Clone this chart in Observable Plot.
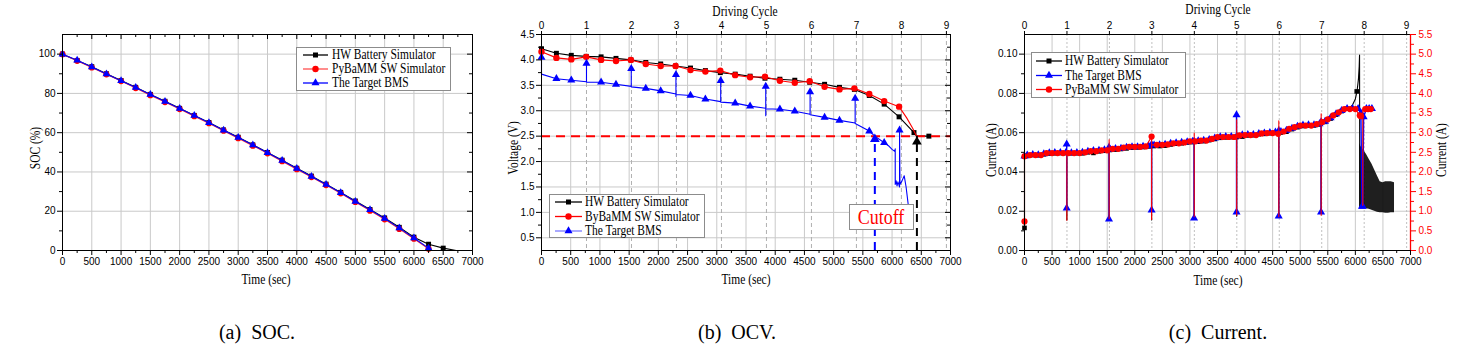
<!DOCTYPE html>
<html><head><meta charset="utf-8">
<script src="https://cdn.jsdelivr.net/npm/d3@7"></script>
<script src="https://cdn.jsdelivr.net/npm/@observablehq/plot@0.6"></script>
<style>
html,body{margin:0;padding:0;background:#fff;overflow:hidden;}
#wrap{position:relative;width:1464px;height:357px;}
#ov{position:absolute;left:0;top:0;}
</style></head><body><div id="wrap"></div>
<script>
// ---------------- shared ----------------
const timeTicks = [0,500,1000,1500,2000,2500,3000,3500,4000,4500,5000,5500,6000,6500,7000];
const timeMinor = [250,750,1250,1750,2250,2750,3250,3750,4250,4750,5250,5750,6250,6750];
const cycleTicks = [0,1,2,3,4,5,6,7,8,9];
const cycleSec = 770;

// ---------------- (a) SOC ----------------
const socTime = [0,250,500,750,1000,1250,1500,1750,2000,2250,2500,2750,3000,3250,3500,3750,4000,4250,4500,4750,5000,5250,5500,5750,6000,6250,6500];
const socHW   = [100,96.8,93.6,90.0,86.6,83.1,79.5,76.0,72.4,68.8,65.2,61.4,57.7,53.8,49.9,46.0,41.9,37.9,33.8,29.6,25.2,20.9,16.6,11.8,6.8,3.2,1.2];
const socHWTailTime = [6500,6720];
const socHWTail = [1.2,0];
const socPy   = [100,96.6,93.2,89.7,86.3,82.7,79.1,75.6,72.0,68.4,64.8,61.0,57.2,53.4,49.5,45.5,41.4,37.4,33.3,29.1,24.7,20.3,15.9,11.0,6.0,0.9];
const socBMS  = [100,96.9,93.5,89.9,86.5,83.0,79.4,75.9,72.3,68.7,65.1,61.2,57.5,53.7,49.8,45.8,41.8,37.7,33.6,29.4,25.0,20.7,16.3,11.4,6.4,1.2];
const socYTicks = [0,20,40,60,80,100];
const socYMinor = [10,30,50,70,90];

// ---------------- (b) OCV ----------------
const ocvTime = [0,255,510,765,1020,1275,1530,1785,2040,2295,2550,2805,3060,3315,3570,3825,4080,4335,4590,4845,5100,5355,5610,5865,6120,6375,6630];
const ocvHW   = [4.22,4.13,4.09,4.07,4.06,4.03,4.00,3.95,3.92,3.88,3.84,3.79,3.75,3.72,3.68,3.64,3.62,3.60,3.56,3.52,3.46,3.42,3.30,3.13,2.88,2.57,2.50];
const ocvHWKneeTime = [6420];
const ocvHWKnee = [2.50];
const ocvPy   = [4.16,4.04,4.01,4.06,4.00,3.98,4.00,3.92,3.88,3.88,3.80,3.77,3.79,3.70,3.66,3.67,3.59,3.55,3.58,3.47,3.42,3.44,3.33,3.19,3.08];
const ocvPyTailTime = [6250,6350,6420];
const ocvPyTail = [2.86,2.66,2.50];
const bmsPathTime = [0,0,255,510,770,770,770,1020,1275,1536,1536,1536,1785,2040,2301,2301,2301,2301,2550,2805,3067,3067,3067,3315,3570,3838,3838,3838,3838,4080,4335,4597,4597,4597,4845,5100,5368,5368,5368,5610,5705,5865,5950,6000,6045,6054,6054,6070,6085,6100,6115,6128,6128,6135,6170,6208,6240,6280];
const bmsPath     = [4.05,3.72,3.63,3.60,3.57,3.93,3.56,3.56,3.52,3.48,3.83,3.47,3.44,3.39,3.33,3.71,3.28,3.32,3.30,3.23,3.18,3.59,3.17,3.15,3.09,3.05,3.48,2.90,3.04,3.03,2.99,2.93,3.37,2.92,2.87,2.81,2.76,3.24,2.75,2.60,2.50,2.37,2.30,2.24,2.20,2.25,1.55,1.62,1.52,1.60,1.55,1.50,2.62,1.55,1.62,1.72,1.50,1.12];
const bmsMarkTime = [0,255,510,770,1020,1275,1536,1785,2040,2301,2550,2805,3067,3315,3570,3838,4080,4335,4597,4845,5100,5368,5610,5865,6128];
const bmsMark     = [4.05,3.63,3.60,3.93,3.56,3.52,3.83,3.44,3.39,3.71,3.30,3.23,3.59,3.15,3.09,3.48,3.03,2.99,3.37,2.87,2.81,3.24,2.60,2.37,2.62];
const cutoffVoltage = 2.5;
const cutoffBmsTime = 5705, cutoffHWTime = 6425;
const cutoffBmsMark = 2.44, cutoffHWMark = 2.39;
const ocvYTicks = [0.5,1.0,1.5,2.0,2.5,3.0,3.5,4.0,4.5];
const ocvYMinor = [0.75,1.25,1.75,2.25,2.75,3.25,3.75,4.25];

// ---------------- (c) Current ----------------
const ampRatio = 50; // right axis (A) / left axis (A)
const curHWTime = [0,0,50,150,250,350,450,550,650,750,850,950,1050,1150,1250,1350,1450,1550,1650,1750,1850,1950,2050,2150,2250,2350,2450,2550,2650,2750,2850,2950,3050,3150,3250,3350,3450,3550,3650,3750,3850,3950,4050,4150,4250,4350,4450,4550,4650,4750,4850,4950,5050,5150,5250,5350,5450,5550,5650,5750,5850];
const curHW = [0.0115,0.0480,0.0482,0.0486,0.0485,0.0490,0.0494,0.0495,0.0496,0.0496,0.0495,0.0495,0.0495,0.0500,0.0497,0.0505,0.0508,0.0512,0.0514,0.0517,0.0520,0.0524,0.0525,0.0527,0.0530,0.0532,0.0532,0.0534,0.0540,0.0544,0.0546,0.0550,0.0552,0.0554,0.0557,0.0562,0.0568,0.0574,0.0576,0.0577,0.0578,0.0580,0.0586,0.0587,0.0592,0.0594,0.0597,0.0599,0.0601,0.0605,0.0618,0.0628,0.0634,0.0637,0.0637,0.0642,0.0655,0.0672,0.0692,0.0710,0.0722];
const curHWTailTime = [5900,5950,6000,6030,6055,6070,6076,6080];
const curHWTail = [0.0728,0.0742,0.0772,0.0810,0.0870,0.0940,0.0995,0.0220];
const curHWExtraMarkTime = [6025];
const curHWExtraMark = [0.0810];
const hwSpikeTime = [768,1535,2305,3078,3848,4612,5380];
const hwSpikeTop  = [0.0496,0.0512,0.0530,0.0552,0.0600,0.0599,0.0642];
const hwSpikeLow  = [0.0155,0.0160,0.0155,0.0165,0.0175,0.0175,0.0190];
const hwNoiseTime = [6080,6100,6150,6200,6250,6300,6350,6400,6450,6500,6550,6600,6650,6710];
const hwNoiseHigh = [0.0545,0.0530,0.0510,0.0490,0.0465,0.0440,0.0410,0.0380,0.0350,0.0345,0.0350,0.0350,0.0350,0.0345];
const hwNoiseLow  = [0.0220,0.0220,0.0218,0.0212,0.0210,0.0205,0.0200,0.0195,0.0192,0.0192,0.0190,0.0190,0.0192,0.0192];

const curBmsTime = [0,50,150,250,350,450,550,650,750,850,950,1050,1150,1250,1350,1450,1550,1650,1750,1850,1950,2050,2150,2250,2350,2450,2550,2650,2750,2850,2950,3050,3150,3250,3350,3450,3550,3650,3750,3850,3950,4050,4150,4250,4350,4450,4550,4650,4750,4850,4950,5050,5150,5250,5350,5450,5550,5650,5750,5850,5950,6050,6100,6120,6135,6150,6200,6250,6300];
const curBms = [0.0480,0.0485,0.0488,0.0487,0.0492,0.0497,0.0498,0.0498,0.0498,0.0497,0.0498,0.0500,0.0505,0.0508,0.0510,0.0512,0.0515,0.0518,0.0520,0.0525,0.0528,0.0528,0.0530,0.0532,0.0536,0.0538,0.0540,0.0545,0.0548,0.0550,0.0553,0.0556,0.0558,0.0560,0.0565,0.0572,0.0578,0.0580,0.0580,0.0582,0.0588,0.0590,0.0590,0.0595,0.0598,0.0600,0.0602,0.0605,0.0612,0.0622,0.0632,0.0638,0.0640,0.0640,0.0645,0.0658,0.0675,0.0695,0.0712,0.0722,0.0722,0.0722,0.0700,0.0225,0.0225,0.0680,0.0722,0.0722,0.0722];
const bmsSpikeTime = [765,1532,2305,3075,3845,4610,5378];
const bmsSpikeTop  = [0.0541,0.0525,0.0540,0.0555,0.0690,0.0610,0.0655];
const bmsSpikeLow  = [0.0215,0.0160,0.0205,0.0165,0.0195,0.0175,0.0195];

const curPyTime = [0,0,100,200,300,400,500,600,700,800,900,1000,1100,1200,1300,1400,1500,1600,1700,1800,1900,2000,2100,2200,2305,2400,2500,2600,2700,2800,2900,3000,3100,3200,3300,3400,3500,3600,3700,3800,3900,4000,4100,4200,4300,4400,4500,4600,4700,4800,4900,5000,5100,5200,5300,5400,5500,5600,5700,5800,5900,6000,6080,6100,6180,6230,6280];
const curPy = [0.74,2.40,2.43,2.43,2.43,2.48,2.48,2.48,2.48,2.48,2.48,2.48,2.50,2.53,2.53,2.55,2.55,2.59,2.59,2.62,2.64,2.64,2.64,2.65,2.90,2.69,2.69,2.70,2.73,2.73,2.75,2.78,2.78,2.80,2.80,2.84,2.89,2.89,2.89,2.89,2.93,2.94,2.94,2.94,2.98,2.99,2.99,2.97,3.03,3.10,3.14,3.18,3.18,3.18,3.22,3.27,3.34,3.44,3.52,3.60,3.60,3.60,3.44,3.42,3.60,3.60,3.60];
const pySpikeTime = [768,1535,2305,3078,3848,4612,5380,6135];
const pySpikeTop  = [2.55,2.82,2.93,2.99,3.33,3.30,3.48,3.42];
const pySpikeLow  = [0.77,0.81,0.79,0.86,0.90,0.86,0.90,1.15];

const curYTicks = [0,0.02,0.04,0.06,0.08,0.10];
const curYMinor = [0.01,0.03,0.05,0.07,0.09];
const curRTicks = [0,0.5,1.0,1.5,2.0,2.5,3.0,3.5,4.0,4.5,5.0,5.5];
const curRMinor = [0.25,0.75,1.25,1.75,2.25,2.75,3.25,3.75,4.25,4.75,5.25];

// ---------------- helpers ----------------
const pts = (ts, vs) => ts.map((t, i) => ({t, v: vs[i]}));
// insert vertical spikes into a base series: prev level -> top -> low -> next level, all at the spike time
function withSpikes(base, st, top, low) {
  const b = base.slice().sort((a, c) => a.t - c.t);
  const ev = b.map(p => ({t: p.t, list: [p.v]}));
  st.forEach((t, i) => {
    let prev = b[0], next = b[b.length - 1];
    for (const p of b) { if (p.t <= t) prev = p; }
    for (let j = b.length - 1; j >= 0; j--) { if (b[j].t > t) next = b[j]; }
    ev.push({t, list: [prev.v, top[i], low[i], next.v]});
  });
  ev.sort((a, c) => a.t - c.t);
  const out = [];
  ev.forEach(e => e.list.forEach(v => out.push({t: e.t, v})));
  return out;
}
const STYLE = {fontFamily: '"Liberation Sans", Arial, sans-serif', fontSize: "10px", background: "transparent", color: "black", overflow: "visible"};
const G = {stroke: "#c9c9c9", strokeOpacity: 1};
const cycleTimes = cycleTicks.map(k => k * cycleSec);

function axes({xTicks, xMinor, yTicks, yMinor, yFmt, ph, pw, top = true, right = true}) {
  const m = [
    Plot.axisX(xTicks, {tickSize: 5, tickPadding: 2, tickFormat: d => String(d), label: null}),
    Plot.axisX(xMinor, {tickSize: 3, tickFormat: () => "", label: null}),
    Plot.axisY(yTicks, {tickSize: 5, tickPadding: 2, tickFormat: yFmt, label: null}),
    Plot.axisY(yMinor, {tickSize: 3, tickFormat: () => "", label: null})
  ];
  if (top) m.push(Plot.tickX(xTicks, {x: d => d, insetBottom: ph - 5, stroke: "black"}),
                  Plot.tickX(xMinor, {x: d => d, insetBottom: ph - 3, stroke: "black"}));
  if (right) m.push(Plot.tickY(yTicks, {y: d => d, insetLeft: pw - 5, stroke: "black"}),
                    Plot.tickY(yMinor, {y: d => d, insetLeft: pw - 3, stroke: "black"}));
  m.push(Plot.frame({stroke: "black"}));
  return m;
}
function place(svg, left) {
  svg.style.position = "absolute";
  svg.style.left = left + "px";
  svg.style.top = "0px";
  document.getElementById("wrap").appendChild(svg);
}

// ---------------- panel (a) ----------------
{
  const hw = pts(socTime, socHW);
  const hwLine = hw.concat(pts(socHWTailTime, socHWTail).slice(1));
  const py = pts(socTime.slice(0, socPy.length), socPy);
  const bm = pts(socTime.slice(0, socBMS.length), socBMS);
  const svg = Plot.plot({
    width: 490, height: 300, marginLeft: 62, marginRight: 18, marginTop: 34, marginBottom: 50,
    style: STYLE, x: {domain: [0, 7000]}, y: {domain: [0, 110]},
    marks: [
      Plot.gridX(timeTicks, G), Plot.gridY(socYTicks, G),
      Plot.line(hwLine, {x: "t", y: "v", stroke: "black", strokeWidth: 1.1}),
      Plot.dot(hw, {x: "t", y: "v", symbol: "square", fill: "black", r: 2.8}),
      Plot.line(py, {x: "t", y: "v", stroke: "#ff3030", strokeWidth: 1.1}),
      Plot.dot(py, {x: "t", y: "v", symbol: "circle", fill: "red", r: 3.1}),
      Plot.line(bm, {x: "t", y: "v", stroke: "blue", strokeWidth: 1.1}),
      Plot.dot(bm, {x: "t", y: "v", symbol: "triangle", fill: "blue", r: 2.9}),
      ...axes({xTicks: timeTicks, xMinor: timeMinor, yTicks: socYTicks, yMinor: socYMinor, yFmt: d => String(d), ph: 216, pw: 410})
    ]
  });
  place(svg, 0);
}

// ---------------- panel (b) ----------------
{
  const yDom = [0.25, 4.5];
  const hw = pts(ocvTime, ocvHW);
  const hwLine = hw.concat(pts(ocvHWKneeTime, ocvHWKnee)).sort((a, b) => a.t - b.t);
  const py = pts(ocvTime.slice(0, ocvPy.length), ocvPy);
  const pyLine = py.concat(pts(ocvPyTailTime, ocvPyTail));
  const bmLine = pts(bmsPathTime, bmsPath);
  const bmMark = pts(bmsMarkTime, bmsMark);
  const svg = Plot.plot({
    width: 490, height: 300, marginLeft: 51, marginRight: 30, marginTop: 34, marginBottom: 50,
    style: STYLE, x: {domain: [0, 7000]}, y: {domain: yDom},
    marks: [
      Plot.gridX(timeTicks, G), Plot.gridY(ocvYTicks, G),
      Plot.ruleX(cycleTimes.slice(1), {x: d => d, stroke: "#b0b0b0", strokeDasharray: "4,3"}),
      Plot.line(hwLine, {x: "t", y: "v", stroke: "black", strokeWidth: 1.1}),
      Plot.dot(hw, {x: "t", y: "v", symbol: "square", fill: "black", r: 2.8}),
      Plot.line(pyLine, {x: "t", y: "v", stroke: "red", strokeWidth: 1.1}),
      Plot.dot(py, {x: "t", y: "v", symbol: "circle", fill: "red", r: 3.2}),
      Plot.line(bmLine, {x: "t", y: "v", stroke: "blue", strokeWidth: 1.1}),
      Plot.dot(bmMark, {x: "t", y: "v", symbol: "triangle", fill: "blue", r: 3}),
      Plot.ruleY([cutoffVoltage], {y: d => d, stroke: "red", strokeWidth: 2, strokeDasharray: "9,6"}),
      Plot.ruleX([cutoffBmsTime], {x: d => d, y1: yDom[0], y2: cutoffVoltage, stroke: "blue", strokeWidth: 2, strokeDasharray: "8,6"}),
      Plot.ruleX([cutoffHWTime], {x: d => d, y1: yDom[0], y2: cutoffVoltage, stroke: "black", strokeWidth: 2, strokeDasharray: "8,6"}),
      Plot.dot([{t: cutoffBmsTime, v: cutoffBmsMark}], {x: "t", y: "v", symbol: "triangle", fill: "blue", r: 3.6}),
      Plot.dot([{t: cutoffHWTime, v: cutoffHWMark}], {x: "t", y: "v", symbol: "triangle", fill: "black", r: 3.6}),
      Plot.axisX(cycleTimes, {anchor: "top", tickSize: 4, tickPadding: 2, tickFormat: d => String(Math.round(d / cycleSec)), label: null}),
      ...axes({xTicks: timeTicks, xMinor: timeMinor, yTicks: ocvYTicks, yMinor: ocvYMinor, yFmt: d3.format(".1f"), ph: 216, pw: 409, top: false})
    ]
  });
  place(svg, 490);
}

// ---------------- panel (c) ----------------
{
  const hwBase = pts(curHWTime, curHW);
  const hwLine = withSpikes(hwBase.concat(pts(curHWTailTime, curHWTail)), hwSpikeTime, hwSpikeTop, hwSpikeLow);
  const hwMarks = hwBase.concat(pts(curHWExtraMarkTime, curHWExtraMark));
  const noise = hwNoiseTime.map((t, i) => ({t, lo: hwNoiseLow[i], hi: hwNoiseHigh[i]}));
  const bmBase = pts(curBmsTime, curBms);
  const bmLine = withSpikes(bmBase, bmsSpikeTime, bmsSpikeTop, bmsSpikeLow);
  const bmMarks = bmBase.concat(pts(bmsSpikeTime, bmsSpikeTop), pts(bmsSpikeTime, bmsSpikeLow));
  const pyBase = pts(curPyTime, curPy).map(d => ({t: d.t, v: d.v / ampRatio}));
  const pyLine = withSpikes(pyBase, pySpikeTime, pySpikeTop.map(v => v / ampRatio), pySpikeLow.map(v => v / ampRatio));
  const svg = Plot.plot({
    width: 489, height: 300, marginLeft: 49, marginRight: 54, marginTop: 34, marginBottom: 50,
    style: STYLE, x: {domain: [0, 7000]}, y: {domain: [0, 0.11]},
    marks: [
      Plot.gridX(timeTicks, G), Plot.gridY(curYTicks, G),
      Plot.ruleX(cycleTimes.slice(1), {x: d => d, stroke: "#c0c0c0", strokeDasharray: "2,2"}),
      Plot.areaY(noise, {x: "t", y1: "lo", y2: "hi", fill: "black", fillOpacity: 0.88}),
      Plot.line(hwLine, {x: "t", y: "v", stroke: "black", strokeWidth: 1.1}),
      Plot.dot(hwMarks, {x: "t", y: "v", symbol: "square", fill: "black", r: 2.6}),
      Plot.line(bmLine, {x: "t", y: "v", stroke: "blue", strokeWidth: 1.4}),
      Plot.dot(bmMarks, {x: "t", y: "v", symbol: "triangle", fill: "blue", r: 3}),
      Plot.line(pyLine, {x: "t", y: "v", stroke: "red", strokeWidth: 1.1}),
      Plot.dot(pyBase, {x: "t", y: "v", symbol: "circle", fill: "red", r: 3.1}),
      Plot.axisX(cycleTimes, {anchor: "top", tickSize: 4, tickPadding: 2, tickFormat: d => String(Math.round(d / cycleSec)), label: null}),
      ...axes({xTicks: timeTicks, xMinor: timeMinor, yTicks: curYTicks, yMinor: curYMinor, yFmt: d3.format(".2f"), ph: 216, pw: 386, top: false, right: false}),
      Plot.axisY(curRTicks.map(v => v / ampRatio), {anchor: "right", tickSize: 5, tickPadding: 3, color: "red", tickFormat: d => (d * ampRatio).toFixed(1), label: null}),
      Plot.axisY(curRMinor.map(v => v / ampRatio), {anchor: "right", tickSize: 3, color: "red", tickFormat: () => "", label: null}),
      Plot.ruleX([7000], {x: d => d, stroke: "red", strokeWidth: 1.3})
    ]
  });
  place(svg, 975);
}

// ---------------- overlay: titles, legends, captions ----------------
const ov = d3.select("#wrap").append("svg").attr("id", "ov").attr("width", 1464).attr("height", 357);
const SERIF = '"Liberation Serif", "Times New Roman", serif';
function txt(s, x, y, {rot = 0, size = 14, sx = 0.82, color = "black", anchor = "middle"} = {}) {
  ov.append("text")
    .attr("transform", `translate(${x},${y}) rotate(${rot}) scale(${sx},1)`)
    .attr("text-anchor", anchor).attr("dominant-baseline", "central")
    .attr("font-family", SERIF).attr("font-size", size).attr("fill", color).text(s);
}
const SYM = {square: [d3.symbolSquare, 25], circle: [d3.symbolCircle, 32], triangle: [d3.symbolTriangle, 28]};
function legend(box, gx0, gx1, tx, rows) {
  const [x0, y0, x1, y1] = box;
  ov.append("rect").attr("x", x0 + 0.5).attr("y", y0 + 0.5).attr("width", x1 - x0).attr("height", y1 - y0)
    .attr("fill", "white").attr("stroke", "#8c8c8c");
  rows.forEach(r => {
    ov.append("line").attr("x1", gx0).attr("x2", gx1).attr("y1", r.y).attr("y2", r.y)
      .attr("stroke", r.line || r.color).attr("stroke-width", 1.3);
    const [type, size] = SYM[r.sym];
    ov.append("path").attr("transform", `translate(${(gx0 + gx1) / 2},${r.y})`)
      .attr("d", d3.symbol(type, size)()).attr("fill", r.color);
    txt(r.label, tx, r.y, {anchor: "start"});
  });
}

// axis titles
txt("Time (sec)", 266, 280);
txt("SOC (%)", 36, 148, {rot: -90});
txt("Driving Cycle", 745, 12);
txt("Time (sec)", 746, 280);
txt("Voltage (V)", 514, 148, {rot: -90});
txt("Driving Cycle", 1218, 10);
txt("Time (sec)", 1218, 281);
txt("Current (A)", 992, 150, {rot: -90});
txt("Current (A)", 1442, 150, {rot: -90});

// legends
legend([296, 47, 450, 90], 303, 328, 332, [
  {label: "HW Battery Simulator", color: "black", sym: "square", y: 55},
  {label: "PyBaMM SW Simulator", color: "red", line: "#ff5050", sym: "circle", y: 69},
  {label: "The Target BMS", color: "blue", sym: "triangle", y: 83}
]);
legend([549, 194, 704, 237], 555, 582, 585, [
  {label: "HW Battery Simulator", color: "black", sym: "square", y: 202},
  {label: "ByBaMM SW Simulator", color: "red", sym: "circle", y: 216.5},
  {label: "The Target BMS", color: "blue", line: "#7a7aff", sym: "triangle", y: 231}
]);
legend([1031, 52, 1185, 97], 1036, 1062, 1065, [
  {label: "HW Battery Simulator", color: "black", sym: "square", y: 61},
  {label: "The Target BMS", color: "blue", sym: "triangle", y: 75.5},
  {label: "PyBaMM SW Simulator", color: "red", sym: "circle", y: 89.5}
]);

// cutoff annotation
ov.append("rect").attr("x", 849.5).attr("y", 204.5).attr("width", 64).attr("height", 25)
  .attr("fill", "white").attr("stroke", "#8c8c8c");
txt("Cutoff", 881, 217, {size: 20, sx: 0.9, color: "red"});

// captions
txt("(a)\u00a0\u00a0SOC.", 257, 332, {size: 20, sx: 1});
txt("(b)\u00a0\u00a0OCV.", 737, 332, {size: 20, sx: 1});
txt("(c)\u00a0\u00a0Current.", 1218, 332, {size: 20, sx: 1});
</script></body></html>
